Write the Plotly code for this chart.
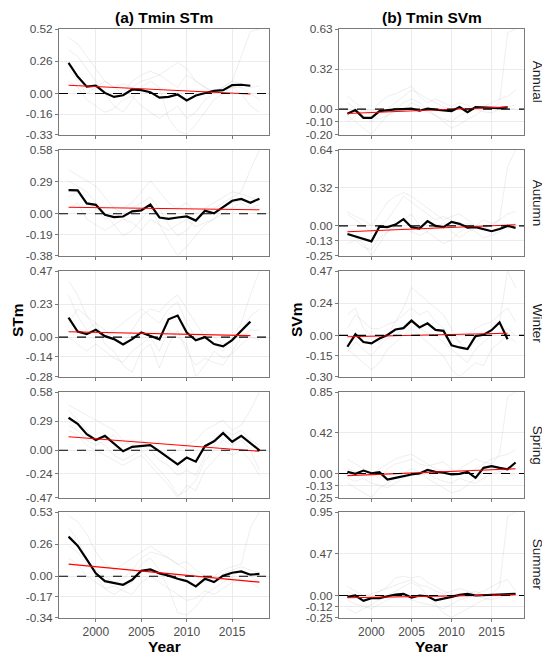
import numpy as np
import plotly.graph_objects as go
from plotly.subplots import make_subplots

YEARS = list(range(1997, 2019))
seasons = ['Annual', 'Autumn', 'Winter', 'Spring', 'Summer']
col_titles = ['(a) Tmin STm', '(b) Tmin SVm']
y_titles = ['STm', 'SVm']

# y tick labels per panel (max, max/2, 0, min/2, min)
ticks_a = [
    ['0.52', '0.26', '0.00', '-0.16', '-0.33'],
    ['0.58', '0.29', '0.00', '-0.19', '-0.38'],
    ['0.47', '0.23', '0.00', '-0.14', '-0.28'],
    ['0.58', '0.29', '0.00', '-0.24', '-0.47'],
    ['0.53', '0.26', '0.00', '-0.17', '-0.34'],
]
ticks_b = [
    ['0.63', '0.32', '0.00', '-0.10', '-0.20'],
    ['0.64', '0.32', '0.00', '-0.13', '-0.25'],
    ['0.47', '0.24', '0.00', '-0.15', '-0.30'],
    ['0.85', '0.42', '0.00', '-0.13', '-0.25'],
    ['0.95', '0.47', '0.00', '-0.12', '-0.25'],
]

# mean series (thick black)
mean_a = [
    [0.247, 0.137, 0.055, 0.063, 0.005, -0.027, -0.014, 0.033, 0.027, 0.011, -0.033,
     -0.027, -0.008, -0.055, -0.016, 0.005, 0.022, 0.027, 0.068, 0.071, 0.063],
    [0.215, 0.212, 0.094, 0.081, -0.009, -0.031, -0.025, 0.022, 0.031, 0.084, -0.034,
     -0.047, -0.034, -0.025, -0.062, 0.028, 0.003, 0.062, 0.118, 0.134, 0.100, 0.137],
    [0.138, 0.040, 0.021, 0.052, 0.007, -0.014, -0.052, -0.014, 0.033, 0.007, -0.016,
     0.127, 0.153, 0.033, -0.023, 0.000, -0.049, -0.066, -0.021, 0.045, 0.110],
    [0.324, 0.263, 0.160, 0.102, 0.143, 0.068, -0.010, 0.034, 0.041, 0.051, -0.010,
     -0.072, -0.140, -0.072, -0.113, 0.041, 0.090, 0.171, 0.085, 0.143, 0.068, 0.000],
    [0.327, 0.252, 0.139, 0.024, -0.040, -0.056, -0.070, -0.029, 0.046, 0.056, 0.024,
     0.005, -0.021, -0.040, -0.083, -0.021, -0.048, 0.005, 0.029, 0.040, 0.013, 0.019],
]
mean_b = [
    [-0.037, -0.008, -0.069, -0.069, -0.016, -0.008, -0.003, 0.000, 0.003, -0.013, 0.003,
     -0.005, -0.011, -0.016, 0.016, -0.024, 0.016, 0.013, 0.008, 0.008, 0.013],
    [-0.068, -0.091, -0.111, -0.131, -0.006, -0.011, 0.011, 0.057, -0.011, -0.023, 0.040,
     0.000, -0.011, 0.034, 0.017, -0.014, -0.011, -0.028, -0.045, -0.026, 0.000, -0.017],
    [-0.083, 0.008, -0.048, -0.058, -0.023, 0.003, 0.043, 0.053, 0.108, 0.058, 0.088,
     0.040, 0.033, -0.073, -0.088, -0.100, -0.005, 0.005, 0.038, 0.095, -0.028],
    [0.017, -0.003, 0.031, 0.003, 0.014, -0.063, -0.045, -0.024, -0.010, 0.000, 0.038,
     0.017, 0.010, -0.010, -0.003, 0.017, -0.045, 0.059, 0.077, 0.059, 0.045, 0.115],
    [-0.015, 0.000, -0.060, -0.030, -0.030, -0.008, 0.011, 0.019, -0.023, 0.000, -0.008,
     -0.056, -0.038, -0.015, 0.008, 0.019, 0.000, 0.004, 0.000, 0.008, 0.011, 0.019],
]

# individual station series (faint grey)
stations_a = [
    [[0.45, 0.40, 0.30, 0.20, 0.10, 0.05, 0.08, 0.05, 0.10, 0.12, 0.15, 0.10, 0.05, 0.15, 0.10, 0.05, 0.02, 0.05, 0.10, 0.30, 0.50, 0.52],
     [0.35, 0.30, 0.20, 0.10, 0.00, -0.10, -0.15, -0.05, 0.05, 0.10, 0.05, -0.20, -0.30, -0.33, -0.25, -0.15, -0.05, 0.00, 0.05, 0.00, -0.10, -0.15],
     [0.20, 0.10, 0.00, 0.05, 0.10, 0.05, 0.00, 0.10, 0.15, 0.18, 0.15, 0.20, 0.25, 0.20, 0.10, 0.05, 0.00, 0.05, 0.10, 0.08, 0.05, 0.06],
     [0.10, 0.05, -0.05, -0.10, -0.15, -0.12, -0.05, -0.02, -0.10, -0.15, -0.20, -0.15, -0.10, -0.20, -0.15, -0.05, 0.00, 0.02, 0.05, 0.05, 0.00, -0.05]],
    [[0.40, 0.35, 0.30, 0.25, 0.15, 0.05, 0.00, 0.05, 0.10, 0.15, 0.05, -0.10, -0.20, -0.15, -0.05, 0.00, 0.05, 0.10, 0.15, 0.20, 0.40, 0.58],
     [0.30, 0.25, 0.20, 0.10, 0.00, -0.10, -0.20, -0.15, -0.05, 0.05, -0.10, -0.25, -0.38, -0.30, -0.20, -0.10, -0.05, 0.05, 0.10, 0.12, 0.10, 0.15],
     [0.15, 0.20, 0.10, 0.05, -0.05, 0.00, 0.05, 0.10, 0.20, 0.30, 0.20, 0.10, 0.05, 0.10, 0.00, 0.05, 0.10, 0.15, 0.20, 0.18, 0.15, 0.12],
     [0.05, 0.10, -0.05, -0.10, -0.15, -0.10, -0.05, -0.08, -0.15, -0.05, -0.10, -0.15, -0.10, -0.05, -0.12, -0.08, -0.05, 0.00, 0.05, 0.10, 0.05, 0.08]],
    [[0.40, 0.30, 0.15, 0.10, 0.05, 0.00, -0.05, 0.05, 0.15, 0.20, 0.18, 0.25, 0.30, 0.20, 0.10, 0.00, -0.05, -0.10, 0.00, 0.10, 0.30, 0.47],
     [0.30, 0.15, 0.05, 0.10, -0.05, -0.10, -0.20, -0.25, -0.10, -0.05, -0.22, -0.05, 0.05, -0.10, -0.20, -0.15, -0.18, -0.20, -0.10, 0.00, 0.05, 0.05],
     [0.10, 0.20, 0.15, 0.05, 0.00, 0.05, 0.10, 0.15, 0.20, 0.15, 0.10, 0.20, 0.25, 0.10, 0.00, 0.05, 0.00, -0.05, -0.02, 0.05, 0.15, 0.20],
     [0.00, -0.05, -0.10, -0.05, -0.10, -0.15, -0.18, -0.10, -0.05, 0.00, -0.10, 0.05, 0.00, -0.05, -0.28, -0.20, -0.10, -0.15, -0.12, -0.05, 0.00, -0.02]],
    [[0.45, 0.40, 0.35, 0.30, 0.25, 0.20, 0.10, 0.05, 0.10, 0.05, 0.00, -0.05, 0.00, 0.05, 0.10, 0.20, 0.25, 0.30, 0.20, 0.25, 0.40, 0.58],
     [0.40, 0.30, 0.20, 0.10, 0.05, -0.05, -0.10, -0.05, 0.00, -0.10, -0.20, -0.30, -0.45, -0.40, -0.30, -0.10, 0.00, 0.10, 0.05, 0.10, 0.00, -0.20],
     [0.25, 0.20, 0.10, 0.05, 0.10, 0.15, 0.05, 0.10, 0.05, 0.00, -0.10, -0.15, -0.25, -0.20, -0.25, -0.05, 0.05, 0.20, 0.15, 0.20, 0.10, 0.05],
     [0.20, 0.15, 0.05, 0.00, -0.05, -0.10, -0.15, -0.10, -0.05, -0.15, -0.25, -0.35, -0.47, -0.35, -0.40, -0.20, -0.10, 0.00, -0.05, 0.00, -0.10, -0.25]],
    [[0.50, 0.45, 0.35, 0.20, 0.10, 0.05, 0.10, 0.15, 0.20, 0.25, 0.20, 0.15, 0.10, 0.05, 0.00, -0.05, 0.00, 0.05, 0.08, 0.10, 0.40, 0.53],
     [0.40, 0.30, 0.15, 0.00, -0.10, -0.15, -0.10, -0.05, 0.10, 0.15, 0.05, -0.10, -0.30, -0.32, -0.25, -0.15, -0.10, -0.05, 0.00, 0.05, 0.00, -0.05],
     [0.25, 0.20, 0.10, 0.05, 0.00, -0.05, -0.02, 0.05, 0.15, 0.20, 0.18, 0.15, 0.10, 0.12, 0.05, 0.00, -0.05, 0.02, 0.05, 0.08, 0.05, 0.03],
     [0.15, 0.10, 0.00, -0.05, -0.10, -0.08, -0.12, -0.15, -0.05, 0.00, -0.05, -0.10, -0.15, -0.20, -0.18, -0.12, -0.15, -0.10, -0.05, -0.02, -0.05, -0.10]],
]
stations_b = [
    [[0.05, 0.00, -0.05, -0.10, -0.05, 0.00, 0.05, 0.10, 0.15, 0.12, 0.08, 0.05, 0.02, 0.00, 0.02, 0.00, 0.01, 0.02, 0.00, 0.05, 0.60, 0.63],
     [-0.05, -0.10, -0.15, -0.20, -0.12, -0.05, 0.00, 0.05, 0.08, 0.05, 0.00, -0.05, -0.10, -0.15, -0.12, -0.08, -0.05, 0.00, 0.02, 0.00, 0.01, 0.00],
     [0.10, 0.05, 0.00, -0.02, 0.05, 0.10, 0.12, 0.15, 0.18, 0.10, 0.05, 0.08, 0.05, 0.02, 0.05, 0.03, 0.00, 0.02, 0.05, 0.08, 0.10, 0.15],
     [-0.10, -0.05, 0.00, -0.05, -0.08, -0.05, -0.02, 0.00, 0.05, 0.02, -0.02, -0.05, -0.08, -0.10, -0.05, -0.02, 0.00, -0.02, -0.03, 0.00, 0.02, 0.03]],
    [[0.10, 0.05, 0.00, -0.05, 0.00, 0.05, 0.15, 0.25, 0.20, 0.15, 0.10, 0.05, 0.08, 0.05, 0.00, 0.02, 0.00, -0.02, 0.00, 0.05, 0.50, 0.64],
     [-0.05, -0.10, -0.15, -0.25, -0.15, -0.05, 0.00, 0.05, 0.10, 0.00, -0.05, -0.10, -0.15, -0.12, -0.05, -0.02, -0.05, -0.10, -0.08, -0.05, 0.00, -0.02],
     [0.12, 0.08, 0.05, 0.00, 0.10, 0.20, 0.25, 0.28, 0.25, 0.20, 0.15, 0.10, 0.05, 0.08, 0.10, 0.05, 0.00, 0.05, 0.02, 0.05, 0.10, 0.12],
     [-0.15, -0.12, -0.18, -0.20, -0.10, -0.05, 0.00, -0.02, -0.05, -0.08, -0.05, 0.00, 0.02, -0.05, -0.10, -0.05, -0.02, 0.00, -0.05, -0.03, 0.00, 0.02]],
    [[0.15, 0.20, 0.05, 0.00, -0.05, 0.00, 0.10, 0.20, 0.35, 0.30, 0.25, 0.20, 0.15, 0.05, -0.05, -0.10, -0.05, 0.00, 0.05, 0.10, 0.47, 0.35],
     [-0.10, -0.15, -0.20, -0.25, -0.20, -0.10, -0.05, 0.00, 0.05, 0.00, -0.05, -0.10, -0.15, -0.25, -0.30, -0.25, -0.20, -0.22, -0.10, -0.05, 0.00, -0.05],
     [0.05, 0.15, 0.10, 0.05, 0.05, 0.08, 0.10, 0.15, 0.20, 0.15, 0.18, 0.10, 0.05, 0.00, -0.05, 0.00, 0.05, 0.08, 0.10, 0.15, 0.20, 0.10],
     [-0.12, -0.05, -0.10, -0.15, -0.08, -0.02, 0.00, 0.05, 0.10, 0.05, 0.02, 0.00, -0.05, -0.10, -0.15, -0.20, -0.10, -0.05, 0.00, 0.02, 0.05, 0.00]],
    [[0.05, 0.02, 0.00, -0.02, 0.05, 0.10, 0.15, 0.18, 0.20, 0.15, 0.10, 0.05, 0.02, 0.00, 0.05, 0.10, 0.15, 0.12, 0.10, 0.20, 0.80, 0.85],
     [-0.10, -0.15, -0.20, -0.25, -0.15, -0.10, -0.05, 0.00, 0.05, 0.02, -0.05, -0.10, -0.15, -0.20, -0.18, -0.12, -0.05, 0.00, 0.05, 0.02, 0.00, -0.02],
     [0.15, 0.10, 0.05, 0.00, -0.05, 0.05, 0.10, 0.12, 0.15, 0.10, 0.08, 0.10, 0.12, 0.05, 0.00, 0.02, 0.05, 0.10, 0.15, 0.18, 0.20, 0.25],
     [-0.05, -0.08, -0.05, -0.10, -0.12, -0.15, -0.10, -0.05, 0.00, -0.02, 0.00, -0.05, -0.08, -0.10, -0.05, -0.08, -0.10, -0.05, 0.00, 0.02, 0.05, 0.08]],
    [[0.05, 0.00, -0.05, -0.02, 0.05, 0.10, 0.20, 0.22, 0.20, 0.22, 0.15, 0.10, 0.05, 0.02, 0.00, 0.02, 0.05, 0.00, 0.02, 0.10, 0.90, 0.95],
     [-0.15, -0.20, -0.15, -0.10, -0.05, 0.00, 0.05, 0.10, 0.15, 0.10, 0.00, -0.10, -0.20, -0.25, -0.20, -0.15, -0.10, -0.05, -0.02, 0.00, 0.02, 0.00],
     [0.10, 0.05, 0.00, 0.02, 0.05, 0.08, 0.12, 0.15, 0.18, 0.12, 0.10, 0.05, 0.02, 0.05, 0.08, 0.05, 0.02, 0.05, 0.10, 0.15, 0.18, 0.05],
     [-0.05, -0.10, -0.12, -0.15, -0.10, -0.05, -0.02, 0.00, -0.05, -0.08, -0.10, -0.12, -0.15, -0.10, -0.05, -0.02, 0.00, -0.03, -0.05, -0.02, 0.00, 0.02]],
]

W, H = 550, 657
OFF = 8  # page body margin: the plot div starts 8px in from the window corner
FONT = 'Arial, Liberation Sans, sans-serif'
col_px = [(59, 269), (339, 524)]
row_top = [29, 150, 271, 392, 512]
row_h = 105.5


def px_x(x):
    return (x - OFF) / W


def px_y(y):
    return 1 - (y - OFF) / H


fig = make_subplots(rows=5, cols=2)

for c, (means, stations, ticks) in enumerate([(mean_a, stations_a, ticks_a),
                                               (mean_b, stations_b, ticks_b)]):
    for r in range(5):
        row, col = r + 1, c + 1
        for s in stations[r]:
            fig.add_trace(go.Scatter(x=YEARS[:len(s)], y=s, mode='lines',
                                     line=dict(color='rgba(190,190,190,0.45)', width=0.6),
                                     showlegend=False, hoverinfo='skip'), row=row, col=col)
        m = means[r]
        yrs = YEARS[:len(m)]
        fig.add_trace(go.Scatter(x=yrs, y=m, mode='lines',
                                 line=dict(color='black', width=2.2),
                                 showlegend=False), row=row, col=col)
        k, b = np.polyfit(yrs, m, 1)
        fig.add_trace(go.Scatter(x=yrs, y=[k * y + b for y in yrs], mode='lines',
                                 line=dict(color='#ff0000', width=1.1),
                                 showlegend=False), row=row, col=col)
        fig.add_hline(y=0, line=dict(color='black', width=1.1, dash='dash'), row=row, col=col)

        labels = ticks[r]
        hi, lo = float(labels[0]), float(labels[-1])
        tv = [hi, hi / 2, 0, lo / 2, lo]
        x0, x1 = col_px[c]
        top = row_top[r]
        fig.update_xaxes(domain=[px_x(x0), px_x(x1)], range=[1995.95, 2019.05],
                         tickvals=[2000, 2005, 2010, 2015], showticklabels=(r == 4),
                         showgrid=True, gridcolor='#ebebeb', gridwidth=0.8,
                         showline=True, mirror=True, linecolor='#7a7a7a', linewidth=1,
                         ticks='outside', ticklen=3, tickcolor='#7a7a7a',
                         tickfont=dict(family=FONT, size=12, color='#4d4d4d'),
                         zeroline=False, automargin=False, row=row, col=col)
        fig.update_yaxes(domain=[px_y(top + row_h), px_y(top)], range=[lo, hi],
                         tickvals=tv, ticktext=labels,
                         showgrid=True, gridcolor='#ebebeb', gridwidth=0.8,
                         showline=True, mirror=True, linecolor='#7a7a7a', linewidth=1,
                         ticks='outside', ticklen=3, tickcolor='#7a7a7a',
                         tickfont=dict(family=FONT, size=11.8, color='#4d4d4d'),
                         zeroline=False, automargin=False, row=row, col=col)

annotations = []


def note(text, x, y, size, angle=0, color='black'):
    annotations.append(dict(text=text, x=px_x(x), y=px_y(y), xref='paper', yref='paper',
                            xanchor='center', yanchor='middle', showarrow=False,
                            textangle=angle, font=dict(family=FONT, size=size, color=color)))


for c in range(2):
    x0, x1 = col_px[c]
    xm = (x0 + x1) / 2
    note('<b>%s</b>' % col_titles[c], xm, 17, 15.5)
    note('<b>Year</b>', xm, 646, 15.5)
yt_x = [17, 296]
for c in range(2):
    note('<b>%s</b>' % y_titles[c], yt_x[c], 320, 15.5, angle=-90)
for r in range(5):
    note(seasons[r], 537, row_top[r] + row_h / 2, 13.5, angle=90, color='#1a1a1a')

fig.update_layout(width=W, height=H, margin=dict(l=0, r=0, t=0, b=0, autoexpand=False),
                  plot_bgcolor='white', paper_bgcolor='white',
                  annotations=annotations, showlegend=False)

fig.write_html("out.html")
